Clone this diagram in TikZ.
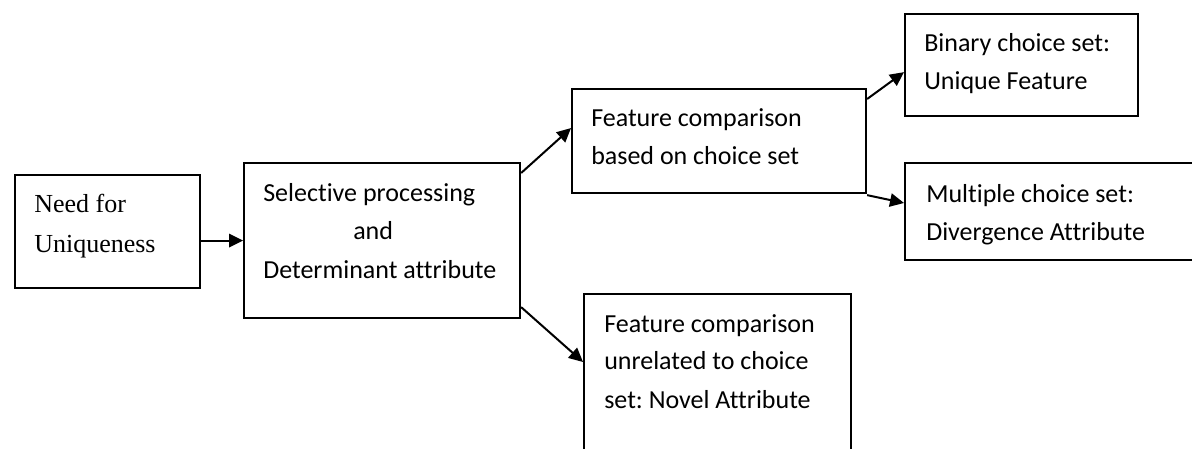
\documentclass[tikz,border=0pt]{standalone}
\usepackage{fontspec}
\setmainfont{Carlito}[Ligatures={NoCommon}]
\newfontfamily\timesfont{Liberation Serif}
\usetikzlibrary{arrows.meta,calc}
\frenchspacing
\tikzset{
  box/.style={draw=black,line width=1.6pt,rectangle,anchor=north west,inner sep=0pt},
  txt/.style={anchor=base west,inner sep=0pt,font=\fontsize{19.5}{23}\selectfont},
  serif/.style={anchor=base west,inner sep=0pt,font=\timesfont\fontsize{19.5}{23}\selectfont},
  arr/.style={line width=1.5pt,-{Triangle[length=10.5pt,width=10pt]}}
}
\begin{document}
\begin{tikzpicture}[x=0.75pt,y=-0.75pt]
\useasboundingbox (0,0) rectangle (1192,449);
\clip (0,0) rectangle (1192,449);
% boxes
\node[box,minimum width=185*0.75pt,minimum height=113*0.75pt] (b1) at (14,174) {};
\node[box,minimum width=276*0.75pt,minimum height=155*0.75pt] (b2) at (243,162) {};
\node[box,minimum width=294*0.75pt,minimum height=104*0.75pt] (b3) at (571,88) {};
\node[box,minimum width=233*0.75pt,minimum height=102*0.75pt] (b4) at (904,13) {};
\node[box,minimum width=300*0.75pt,minimum height=97*0.75pt] (b5) at (904,162) {};
\node[box,minimum width=267*0.75pt,minimum height=180*0.75pt] (b6) at (583,293) {};
% texts
\node[serif] (t1a) at (34,213) {Need for};
\node[serif] (t1b) at (34,252) {Uniqueness};
\node[txt] (t2a) at (263,201) {Selective processing};
\node[txt] (t2b) at (353,239) {and};
\node[txt] (t2c) at (263,278) {Determinant attribute};
\node[txt] (t3a) at (591,127) {Feature comparison};
\node[txt] (t3b) at (591,165) {based on choice set};
\node[txt] (t4a) at (924,52) {Binary choice set:};
\node[txt] (t4b) at (924,90) {Unique Feature};
\node[txt] (t5a) at (926,203) {Multiple choice set:};
\node[txt] (t5b) at (926,240) {Divergence Attribute};
\node[txt] (t6a) at (604,332) {Feature comparison};
\node[txt] (t6b) at (604,369) {unrelated to choice};
\node[txt] (t6c) at (604,408) {set: Novel Attribute};
% connectors
\draw[arr] (b1.east |- b2.west) -- (b2.west);
\draw[arr] ($(b2.north east)+(0,11)$) -- ($(b3.west)+(0,-13)$);
\draw[arr] ($(b2.south east)+(0,-12)$) -- ($(b6.north west)+(0,69)$);
\draw[arr] ($(b3.north east)+(0,11)$) -- ($(b4.south west)+(0,-45)$);
\draw[arr] ($(b3.south east)+(0,1)$) -- ($(b5.north west)+(0,41)$);
\end{tikzpicture}
\end{document}
